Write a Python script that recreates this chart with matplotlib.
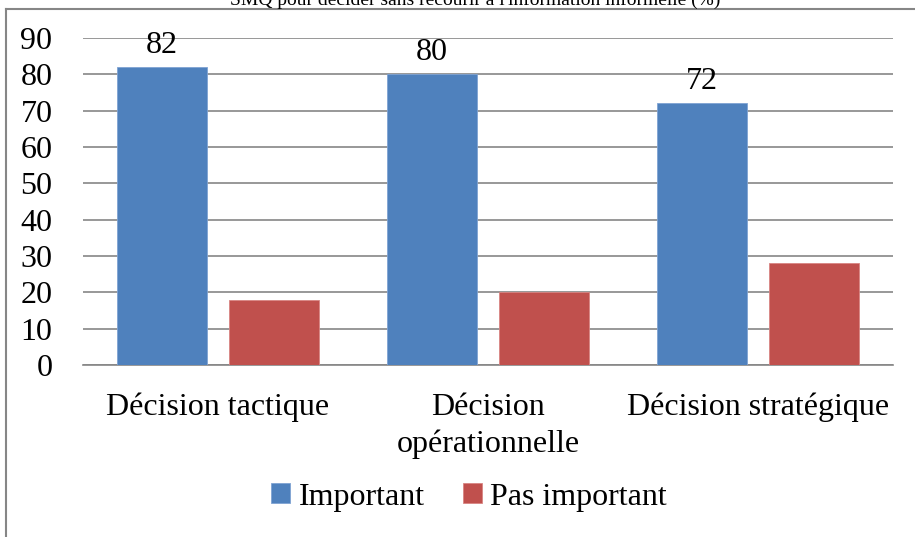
import matplotlib
matplotlib.use("Agg")
import matplotlib.pyplot as plt
from matplotlib.lines import Line2D
import numpy as np

categories = ["Décision tactique", "Décision\nopérationnelle", "Décision stratégique"]
important = [82, 80, 72]
pas_important = [18, 20, 28]
series_names = ["Important", "Pas important"]
title = "SMQ pour décider sans recourir à l'information informelle (%)"
yticks = [0, 10, 20, 30, 40, 50, 60, 70, 80, 90]

BLUE = "#4F81BD"
RED = "#C0504D"
GRID = "#868686"

plt.rcParams["font.family"] = ["Liberation Serif", "DejaVu Serif"]

W, H = 915, 537
fig = plt.figure(figsize=(W / 100, H / 100), dpi=100)

# plot area in pixel units
left, right, top, bottom = 83, 893, 38, 365
ax = fig.add_axes([left / W, 1 - bottom / H, (right - left) / W, (bottom - top) / H])

x = np.arange(len(categories))
bw = 0.333
gap = 0.085
off = (bw + gap) / 2
b1 = ax.bar(x - off, important, bw, color=BLUE, edgecolor="#7FA3D3", linewidth=0.6,
            label=series_names[0], zorder=3)
b2 = ax.bar(x + off, pas_important, bw, color=RED, edgecolor="#D88583", linewidth=0.6,
            label=series_names[1], zorder=3)
ax.bar_label(b1, labels=[str(v) for v in important], padding=5, fontsize=23)

ax.set_xlim(-0.5, len(categories) - 0.5)
ax.set_ylim(0, 90)
ax.set_yticks(yticks)
ax.yaxis.grid(True, color=GRID, linewidth=1.2, zorder=0)
ax.set_axisbelow(True)
for s in ["left", "right", "top"]:
    ax.spines[s].set_visible(False)
ax.spines["bottom"].set_color(GRID)
ax.spines["bottom"].set_linewidth(1.2)
ax.tick_params(axis="y", length=0, pad=22, labelsize=23)
ax.tick_params(axis="x", length=0, pad=20, labelsize=23)
ax.set_xticks(x)
ax.set_xticklabels(categories, linespacing=1.35)

# chart frame (left and top edges visible)
fig.add_artist(Line2D([5.5 / W, 5.5 / W], [0, 1 - 8.5 / H], transform=fig.transFigure,
                      color=GRID, linewidth=1.5))
fig.add_artist(Line2D([5.5 / W, 1], [1 - 8.5 / H, 1 - 8.5 / H], transform=fig.transFigure,
                      color=GRID, linewidth=1.5))

fig.text(475 / W, 1 - 5 / H, title, ha="center", va="baseline", fontsize=14)

fig.legend(handles=[b1, b2], labels=series_names, loc="center",
           bbox_to_anchor=(469 / W, 1 - 497 / H), ncol=2, frameon=False,
           fontsize=23, handlelength=0.6, handleheight=0.6, handletextpad=0.25,
           columnspacing=1.2)

fig.savefig("out.png", dpi=100)
